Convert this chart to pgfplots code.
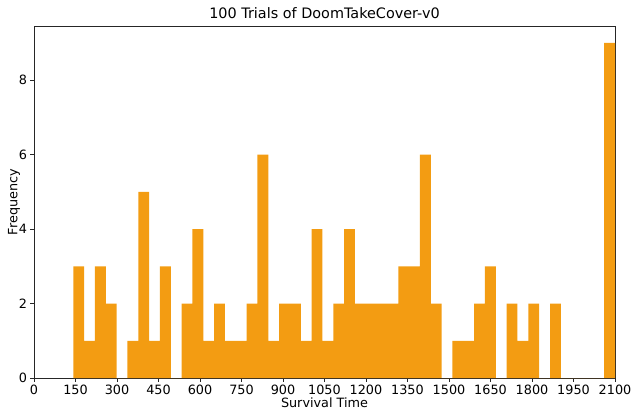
\documentclass[border=0pt]{standalone}
\usepackage{pgfplots}
\pgfplotsset{compat=1.18}
\usepackage{fontspec}
\setmainfont{DejaVu Sans}
\definecolor{barorange}{HTML}{F39C12}

% histogram: 50 bins from 142 to 2100, last edge repeated for ybar interval
\pgfplotstableread{
edge count
142 3
181.16 1
220.32 3
259.48 2
298.64 0
337.8 1
376.96 5
416.12 1
455.28 3
494.44 0
533.6 2
572.76 4
611.92 1
651.08 2
690.24 1
729.4 1
768.56 2
807.72 6
846.88 1
886.04 2
925.2 2
964.36 1
1003.52 4
1042.68 1
1081.84 2
1121 4
1160.16 2
1199.32 2
1238.48 2
1277.64 2
1316.8 3
1355.96 3
1395.12 6
1434.28 2
1473.44 0
1512.6 1
1551.76 1
1590.92 2
1630.08 3
1669.24 0
1708.4 2
1747.56 1
1786.72 2
1825.88 0
1865.04 2
1904.2 0
1943.36 0
1982.52 0
2021.68 0
2060.84 9
2100 9
}\trials

\begin{document}
\begin{tikzpicture}
\begin{axis}[
  scale only axis, width=581pt, height=352pt,
  xmin=0, xmax=2100, ymin=0, ymax=9.45,
  xtick={0,150,...,2100}, ytick={0,2,4,6,8},
  scaled ticks=false,
  tick align=outside, tick pos=left, major tick length=3.5pt,
  tick style={black!85},
  tick label style={font=\fontsize{12.8}{15}\selectfont},
  /pgf/number format/assume math mode=true,
  /pgf/number format/1000 sep={},
  axis line style={black!85},
  xlabel={Survival Time}, ylabel={Frequency},
  every axis x label/.style={at={(axis description cs:0.5,-0.0705)}, anchor=center, font=\fontsize{12.8}{15}\selectfont},
  every axis y label/.style={at={(axis description cs:-0.0344,0.5)}, rotate=90, anchor=center, font=\fontsize{12.8}{15}\selectfont},
  title={100 Trials of DoomTakeCover-v0},
  every axis title/.style={at={(axis description cs:0.5,1.0369)}, anchor=center, font=\fontsize{14.4}{17}\selectfont},
]
\addplot[ybar interval, fill=barorange, draw=none] table[x=edge, y=count] {\trials};
\end{axis}
\pgfresetboundingbox
\useasboundingbox (-34pt,-32pt) rectangle (597pt,378pt);
\end{tikzpicture}
\end{document}
